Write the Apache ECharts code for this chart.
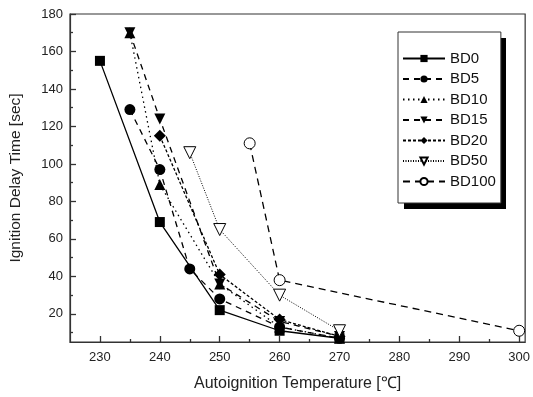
<!DOCTYPE html>
<html>
<head>
<meta charset="utf-8">
<script src="https://cdn.jsdelivr.net/npm/echarts@6/dist/echarts.min.js"></script>
<style>
  html, body { margin: 0; padding: 0; background: #fff; }
  #main { width: 533px; height: 397px; }
</style>
</head>
<body>
<div id="main"></div>
<script>
// temperatures (℃) and ignition delay (sec) per blend
const bd0X = [230, 240, 250, 260, 270]
const bd0Y = [155, 69, 22, 11, 7]
const bd5X = [235, 240, 245, 250, 260, 270]
const bd5Y = [129, 97, 44, 28, 13, 7]
const bd10X = [235, 240, 250, 260, 270]
const bd10Y = [170, 89, 36, 13, 7]
const bd15X = [235, 240, 250, 260, 270]
const bd15Y = [170, 124, 36, 16, 8]
const bd20X = [240, 250, 260, 270]
const bd20Y = [115, 41, 17, 8]
const bd50X = [245, 250, 260, 270]
const bd50Y = [106, 65, 30, 11]
const bd100X = [255, 260, 300]
const bd100Y = [111, 38, 11]

// tick labels
const xTicks = [230, 240, 250, 260, 270, 280, 290, 300]
const xMinorTicks = [235, 245, 255, 265, 275, 285, 295]
const yTicks = [20, 40, 60, 80, 100, 120, 140, 160, 180]
const yMinorTicks = [10, 30, 50, 70, 90, 110, 130, 150, 170]

const pair = (xs, ys) => xs.map((x, i) => [x, ys[i]])

const font = 'Liberation Sans, Arial, sans-serif'
const axisColor = '#333'

const makeSeries = (name, xs, ys, symbol, lineType, opts = {}) => ({
  name: name,
  type: 'line',
  data: pair(xs, ys),
  symbol: symbol,
  symbolSize: opts.size || 10,
  symbolRotate: opts.rotate || 0,
  lineStyle: {
    color: '#000',
    width: opts.width || 1.3,
    type: lineType
  },
  itemStyle: {
    color: opts.hollow ? '#fff' : '#000',
    borderColor: '#000',
    borderWidth: opts.hollow ? 1 : 0
  },
  emphasis: { disabled: true },
  z: opts.z || 2
})

// main axis with labels + long ticks
const mainAxis = (min, max, ticks, extra) => Object.assign({
  type: 'value',
  min: min,
  max: max,
  nameLocation: 'middle',
  nameTextStyle: { fontFamily: font, fontSize: 16, color: '#222' },
  axisLine: { lineStyle: { color: axisColor, width: 1.2 } },
  axisTick: { show: true, inside: true, length: 6, customValues: ticks, lineStyle: { color: axisColor, width: 1.3 } },
  axisLabel: { fontFamily: font, fontSize: 13, color: '#222', customValues: ticks },
  splitLine: { show: false }
}, extra)

// overlay axis carrying only the short minor ticks
const minorAxis = (min, max, ticks, pos) => ({
  type: 'value',
  min: min,
  max: max,
  position: pos,
  axisLine: { show: false },
  axisTick: { show: true, inside: true, length: 3, customValues: ticks, lineStyle: { color: axisColor, width: 1.3 } },
  axisLabel: { show: false },
  splitLine: { show: false }
})

const chart = echarts.init(document.getElementById('main'))

chart.setOption({
  animation: false,
  backgroundColor: '#fff',
  grid: {
    left: 69,
    right: 4,
    top: 14,
    bottom: 48,
    show: true,
    borderColor: axisColor,
    borderWidth: 1.2
  },
  // solid drop shadow behind the legend box
  graphic: [{
    type: 'rect',
    left: 404,
    top: 38,
    shape: { width: 102, height: 171 },
    style: { fill: '#000' },
    z: 3
  }],
  legend: {
    orient: 'vertical',
    left: 398,
    top: 32,
    itemWidth: 42,
    itemHeight: 9,
    itemGap: 5.5,
    padding: [19, 5, 14, 4],
    backgroundColor: '#fff',
    borderColor: axisColor,
    borderWidth: 1,
    z: 5,
    textStyle: { fontFamily: font, fontSize: 15, color: '#111' },
    data: ['BD0', 'BD5', 'BD10', 'BD15', 'BD20', 'BD50', 'BD100']
  },
  xAxis: [
    mainAxis(225, 301, xTicks, {
      name: 'Autoignition Temperature [\u2103]',
      nameGap: 34,
      axisLabel: { fontFamily: font, fontSize: 13, color: '#222', margin: 9, customValues: xTicks }
    }),
    minorAxis(225, 301, xMinorTicks, 'bottom')
  ],
  yAxis: [
    mainAxis(5, 180, yTicks, {
      name: 'Ignition Delay Time [sec]',
      nameGap: 46,
      nameTextStyle: { fontFamily: font, fontSize: 15.5, color: '#222' },
      axisLabel: { fontFamily: font, fontSize: 13, color: '#222', margin: 7, customValues: yTicks }
    }),
    minorAxis(5, 180, yMinorTicks, 'left')
  ],
  series: [
    makeSeries('BD0', bd0X, bd0Y, 'rect', 'solid', { size: 10 }),
    makeSeries('BD5', bd5X, bd5Y, 'circle', [6, 5], { size: 11 }),
    makeSeries('BD10', bd10X, bd10Y, 'triangle', [1.5, 3.5], { size: 11 }),
    makeSeries('BD15', bd15X, bd15Y, 'triangle', [6, 5], { size: 11, rotate: 180 }),
    makeSeries('BD20', bd20X, bd20Y, 'diamond', [3, 2], { size: 12 }),
    makeSeries('BD50', bd50X, bd50Y, 'triangle', [1, 1.5], { size: 12, rotate: 180, hollow: true, width: 1 }),
    makeSeries('BD100', bd100X, bd100Y, 'circle', [7, 5], { size: 11, hollow: true })
  ]
})
</script>
</body>
</html>
